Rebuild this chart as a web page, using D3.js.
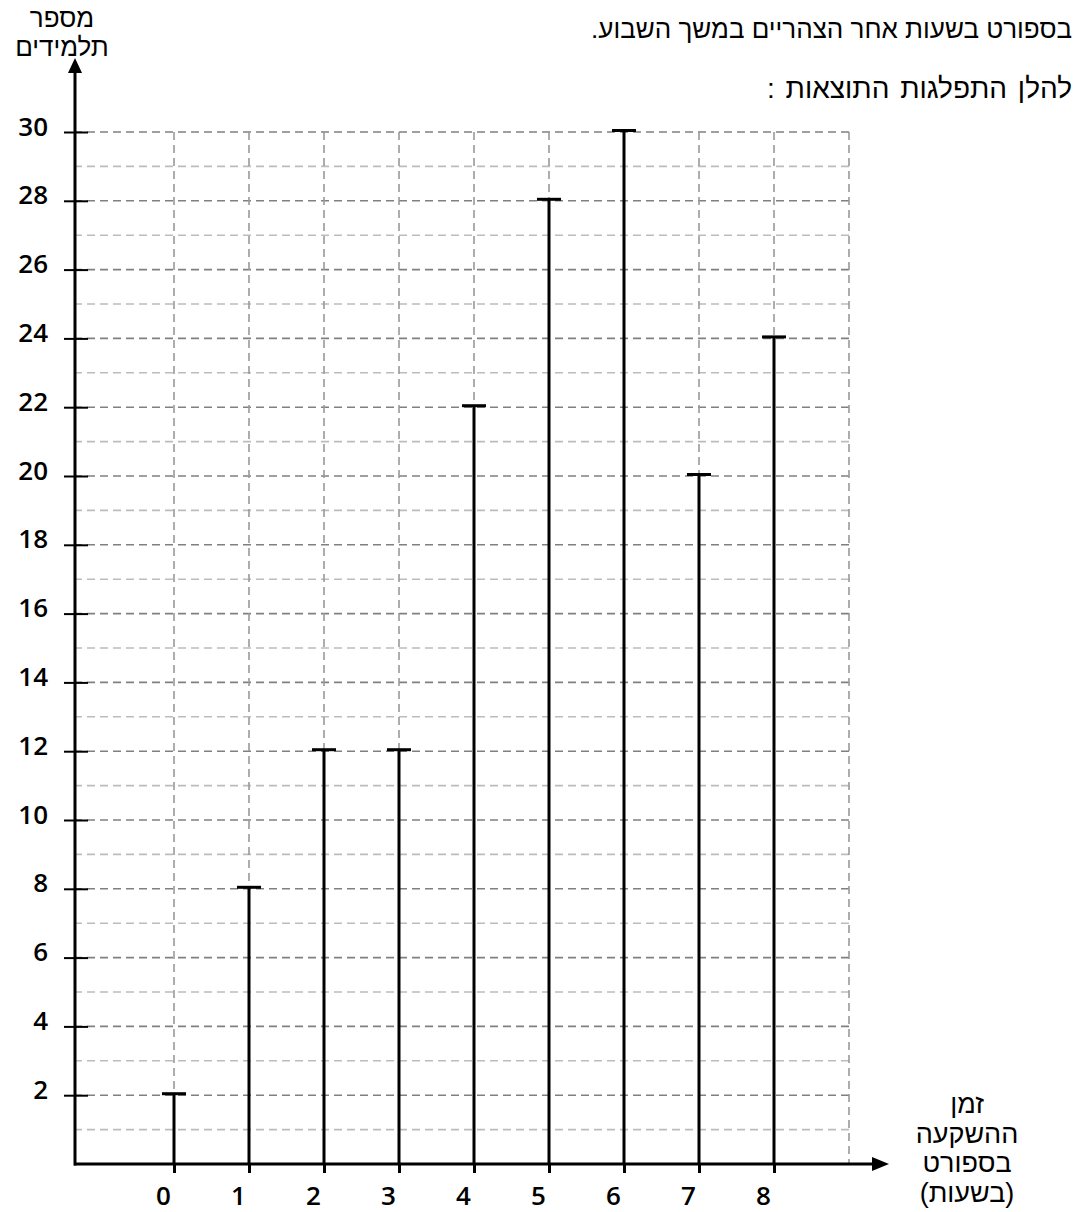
<!DOCTYPE html>
<html lang="he">
<head>
<meta charset="utf-8">
<script src="https://cdn.jsdelivr.net/npm/d3@7"></script>
<style>
  body { margin: 0; background: #fff; }
  .heb { font-family: "Liberation Sans", "DejaVu Sans", sans-serif; }
  .num { font-family: "Open Sans", "Noto Sans", sans-serif; font-weight: 600; }
</style>
</head>
<body>
<div id="main"></div>
<script>
// data
const hours = [0, 1, 2, 3, 4, 5, 6, 7, 8];
const students = [2, 8, 12, 12, 22, 28, 30, 20, 24];
const yTickValues = [2, 4, 6, 8, 10, 12, 14, 16, 18, 20, 22, 24, 26, 28, 30];
const gridRows = d3.range(1, 31);
const gridCols = d3.range(0, 10);
const titleLines = ["בספורט בשעות אחר הצהריים במשך השבוע.", "להלן התפלגות התוצאות :"];
const yLabelLines = ["מספר", "תלמידים"];
const xLabelLines = ["זמן", "ההשקעה", "בספורט", "(בשעות)"];

const width = 1078, height = 1212;
const axisX0 = 74, axisY0 = 1164;

const x = d3.scaleLinear().domain([0, 9]).range([174, 849]);
const y = d3.scaleLinear().domain([0, 30]).range([axisY0, 132]);

const svg = d3.select('#main').append('svg')
  .attr('width', width)
  .attr('height', height)
  .attr('viewBox', `0 0 ${width} ${height}`);

// title text (right aligned, rtl)
svg.append('g').selectAll('text')
  .data(titleLines)
  .enter()
  .append('text')
  .attr('class', 'heb')
  .attr('x', 1072)
  .attr('y', (d, i) => i === 0 ? 38 : 98)
  .attr('direction', 'rtl')
  .attr('text-anchor', 'start')
  .style('font-size', (d, i) => i === 0 ? '26px' : '28px')
  .style('word-spacing', (d, i) => i === 0 ? '0px' : '3px')
  .text(d => d);

// grid
const grid = svg.append('g').attr('id', 'grid');
grid.selectAll('line.row')
  .data(gridRows)
  .enter()
  .append('line')
  .attr('class', 'row')
  .attr('x1', axisX0)
  .attr('x2', x(9))
  .attr('y1', d => y(d))
  .attr('y2', d => y(d))
  .attr('stroke', d => d % 2 === 0 ? '#808080' : '#bcbcbc')
  .attr('stroke-width', 1.6)
  .attr('stroke-dasharray', '8,5');

grid.selectAll('line.col')
  .data(gridCols)
  .enter()
  .append('line')
  .attr('class', 'col')
  .attr('x1', d => x(d))
  .attr('x2', d => x(d))
  .attr('y1', y(30))
  .attr('y2', axisY0)
  .attr('stroke', '#999')
  .attr('stroke-width', 1.6)
  .attr('stroke-dasharray', '8,5');

// y axis ticks + labels
const yAxis = svg.append('g')
  .attr('transform', `translate(${axisX0},0)`)
  .call(d3.axisLeft(y).tickValues(yTickValues).tickSize(10).tickPadding(16));
yAxis.select('.domain').remove();
yAxis.selectAll('.tick line')
  .attr('x1', -10).attr('x2', 14)
  .attr('stroke', '#000').attr('stroke-width', 2);
yAxis.selectAll('.tick text')
  .attr('class', 'num')
  .attr('dy', '0.12em')
  .attr('fill', '#000')
  .style('font-size', '26px');

// x axis ticks + labels
const xAxis = svg.append('g')
  .attr('transform', `translate(0,${axisY0})`)
  .call(d3.axisBottom(x).tickValues(hours).tickSize(9).tickPadding(14));
xAxis.select('.domain').remove();
xAxis.selectAll('.tick line')
  .attr('stroke', '#000').attr('stroke-width', 3);
xAxis.selectAll('.tick text')
  .attr('class', 'num')
  .attr('dx', -11)
  .attr('fill', '#000')
  .style('font-size', '26px');

// stems with caps
const stems = svg.append('g').attr('id', 'stems');
stems.selectAll('line.stem')
  .data(hours)
  .enter()
  .append('line')
  .attr('class', 'stem')
  .attr('x1', d => x(d))
  .attr('x2', d => x(d))
  .attr('y1', axisY0)
  .attr('y2', (d, i) => y(students[i]) - 1)
  .attr('stroke', '#000')
  .attr('stroke-width', 3);
stems.selectAll('line.cap')
  .data(hours)
  .enter()
  .append('line')
  .attr('class', 'cap')
  .attr('x1', d => x(d) - 12)
  .attr('x2', d => x(d) + 12)
  .attr('y1', (d, i) => y(students[i]) - 1.5)
  .attr('y2', (d, i) => y(students[i]) - 1.5)
  .attr('stroke', '#000')
  .attr('stroke-width', 3);

// axes with arrows
svg.append('line')
  .attr('x1', axisX0).attr('x2', 875)
  .attr('y1', axisY0).attr('y2', axisY0)
  .attr('stroke', '#000').attr('stroke-width', 3);
svg.append('path')
  .attr('d', `M${889},${axisY0} L${872},${axisY0 - 7} L${872},${axisY0 + 7} Z`)
  .attr('fill', '#000');
svg.append('line')
  .attr('x1', axisX0 + 1).attr('x2', axisX0 + 1)
  .attr('y1', axisY0 + 1.5).attr('y2', 72)
  .attr('stroke', '#000').attr('stroke-width', 3);
svg.append('path')
  .attr('d', `M${axisX0 + 1},${58} L${axisX0 - 6},${73} L${axisX0 + 8},${73} Z`)
  .attr('fill', '#000');

// axis titles
svg.append('g').selectAll('text')
  .data(yLabelLines)
  .enter()
  .append('text')
  .attr('class', 'heb')
  .attr('x', 62)
  .attr('y', (d, i) => 27 + i * 29)
  .attr('text-anchor', 'middle')
  .style('font-size', '26px')
  .text(d => d);

svg.append('g').selectAll('text')
  .data(xLabelLines)
  .enter()
  .append('text')
  .attr('class', 'heb')
  .attr('x', 967)
  .attr('y', (d, i) => 1113 + i * 29.5)
  .attr('text-anchor', 'middle')
  .style('font-size', '27px')
  .text(d => d);
</script>
</body>
</html>
